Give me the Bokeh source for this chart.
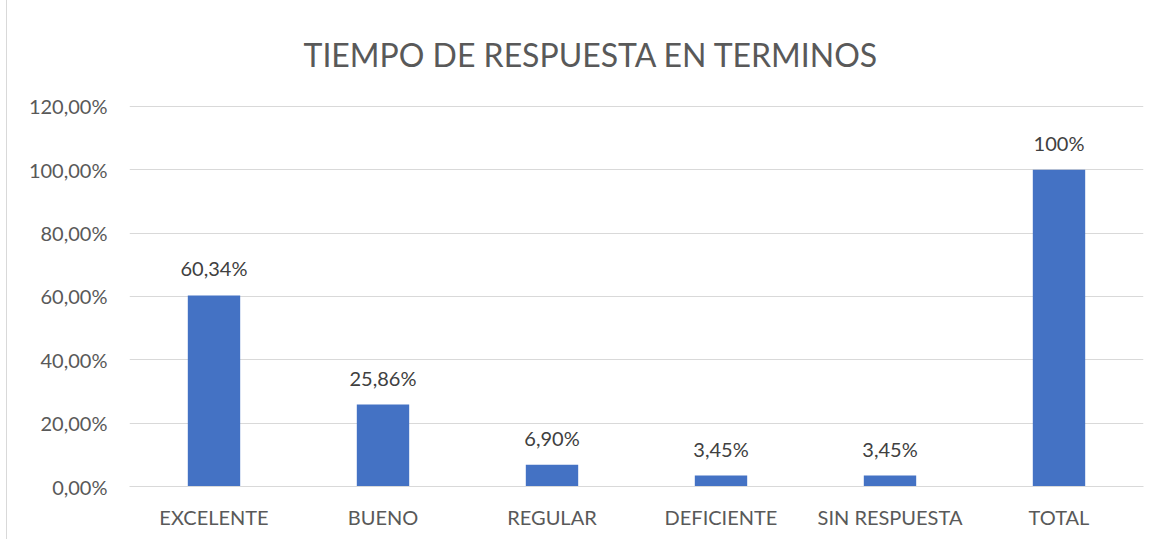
from bokeh.plotting import figure
from bokeh.models import ColumnDataSource, LabelSet, CustomJSTickFormatter, FixedTicker, Range1d
from bokeh.core.properties import value
from bokeh.embed import file_html
from bokeh.resources import INLINE

categories = ["EXCELENTE", "BUENO", "REGULAR", "DEFICIENTE", "SIN RESPUESTA", "TOTAL"]
values = [0.6034, 0.2586, 0.0690, 0.0345, 0.0345, 1.00]
value_labels = ["60,34%", "25,86%", "6,90%", "3,45%", "3,45%", "100%"]
y_ticks = [0.0, 0.2, 0.4, 0.6, 0.8, 1.0, 1.2]

FONT = "Lato"
GRAY = "#595959"

src = ColumnDataSource(dict(cat=categories, val=values, lab=value_labels))

p = figure(x_range=categories, y_range=Range1d(0, 1.203), width=1150, height=540,
           output_backend="svg", toolbar_location=None,
           min_border_left=122, min_border_right=14, min_border_top=96, min_border_bottom=54)

p.vbar(x="cat", top="val", width=0.31, source=src, color="#4472C4", line_color=None)

labels = LabelSet(x="cat", y="val", text="lab", source=src, text_align="center",
                  text_baseline="bottom", y_offset=15, text_font=value(FONT),
                  text_font_size="20px", text_color="#404040")
p.add_layout(labels)

p.title.text = "TIEMPO DE RESPUESTA EN TERMINOS"
p.title.text_font = FONT
p.title.text_font_size = "32px"
p.title.text_font_style = "normal"
p.title.text_color = GRAY
p.title.align = "left"
p.title.offset = 174
p.title.standoff = 64

p.yaxis.ticker = FixedTicker(ticks=y_ticks)
p.yaxis.formatter = CustomJSTickFormatter(code="return (tick*100).toFixed(2).replace('.', ',') + '%';")
p.yaxis.axis_line_color = None
p.yaxis.major_tick_line_color = None
p.yaxis.minor_tick_line_color = None
p.yaxis.major_label_standoff = 16
p.yaxis.major_label_text_font = FONT
p.yaxis.major_label_text_font_size = "20px"
p.yaxis.major_label_text_color = GRAY

p.xaxis.axis_line_color = "#d9d9d9"
p.xaxis.major_tick_line_color = None
p.xaxis.minor_tick_line_color = None
p.xaxis.major_label_standoff = 12
p.xaxis.major_label_text_font = FONT
p.xaxis.major_label_text_font_size = "20px"
p.xaxis.major_label_text_color = GRAY

p.xgrid.grid_line_color = None
p.ygrid.grid_line_color = "#d9d9d9"
p.ygrid.grid_line_width = 1
p.outline_line_color = None
p.x_range.range_padding = 0

p.styles = {"margin-left": "6px", "margin-top": "-1px",
            "border-left": "1px solid #d9d9d9", "border-top": "1px solid #d9d9d9"}

open("out.html", "w").write(file_html(p, INLINE))
